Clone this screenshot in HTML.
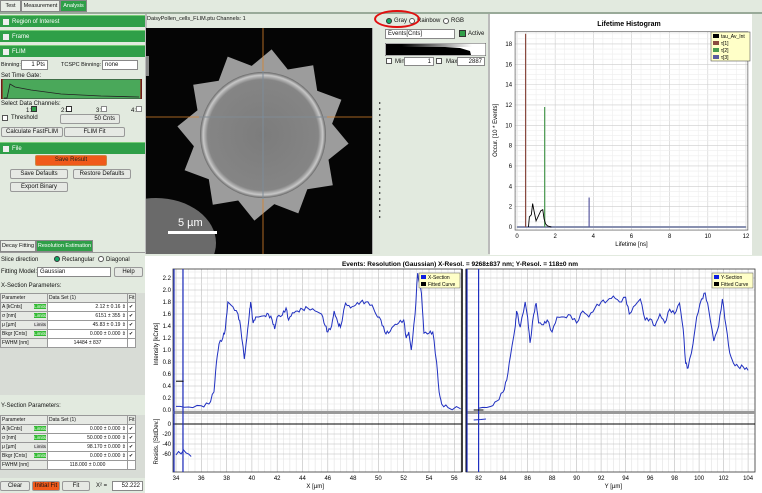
<!DOCTYPE html>
<html><head><meta charset="utf-8"><style>
*{box-sizing:border-box;margin:0;padding:0}
body{width:762px;height:493px;overflow:hidden;background:#e2eadf;font-family:"Liberation Sans",sans-serif;font-size:6px;color:#111;position:relative}
.a{position:absolute;white-space:nowrap}
.g{position:absolute;background:#2f9f48;color:#fff;height:12px;left:0;width:145px;padding-left:12px;line-height:12px;font-size:6px;border-top:1px solid #7c7}
.g:before{content:"";position:absolute;left:3px;top:3px;width:6px;height:6px;background:#eee}
.btn{position:absolute;background:#e6e9e4;border:1px solid #999;border-radius:2px;text-align:center;line-height:9px;font-size:6px;white-space:nowrap;overflow:hidden}
.in{position:absolute;background:#fff;border:1px solid #888;font-size:6px;line-height:8px;text-align:right;padding-right:2px;white-space:nowrap}
.tab{position:absolute;top:0;height:12px;border:1px solid #888;line-height:11px;text-align:center;font-size:5.5px;background:#e8ece6;white-space:nowrap;overflow:hidden}
table{border-collapse:collapse;font-size:5px;table-layout:fixed}
td{border:1px solid #999;height:9px;padding:0 1px;white-space:nowrap;overflow:hidden}
.L{background:#3b3;color:#fff;float:right;font-size:4.5px}
.Lg{background:#ddd;float:right;font-size:4.5px}
</style></head><body>
<div class="tab" style="left:0;width:21px">Test</div>
<div class="tab" style="left:21px;width:39px">Measurement</div>
<div class="tab" style="left:60px;width:27px;background:#2f9f48;color:#fff">Analysis</div>
<div class="a" style="left:0;top:12px;width:762px;height:2px;background:#9a9"></div>
<div class="g" style="top:15px">Region of Interest</div>
<div class="g" style="top:30px">Frame</div>
<div class="g" style="top:45px">FLIM</div>
<div class="a" style="left:1px;top:62px;font-size:5.5px">Binning:</div>
<div class="in" style="left:21px;top:60px;width:27px;height:10px">1 Pts</div>
<div class="a" style="left:61px;top:62px;font-size:5.5px">TCSPC Binning:</div>
<div class="in" style="left:102px;top:60px;width:36px;height:10px;text-align:left;padding-left:2px">none</div>
<div class="a" style="left:1px;top:73px">Set Time Gate:</div>
<svg class="a" style="left:1px;top:79px" width="141" height="20"><rect width="141" height="20" fill="#4aa85a" stroke="#333"/><path d="M3 19 L6 19 L9 5 L14 8 L30 11 L60 15 L100 17 L138 18" stroke="#222" fill="none" stroke-width="0.8"/><line x1="1" y1="0" x2="1" y2="20" stroke="#a00"/><line x1="140" y1="0" x2="140" y2="20" stroke="#a00"/></svg>
<div class="a" style="left:1px;top:101px">Select Data Channels:</div>
<div class="a" style="left:26px;top:106px">1:<span style="display:inline-block;width:6px;height:6px;background:#2f9f48;border:1px solid #333"></span></div>
<div class="a" style="left:61px;top:106px">2:<span style="display:inline-block;width:6px;height:6px;background:#fff;border:1px solid #333"></span></div>
<div class="a" style="left:96px;top:106px">3:<span style="display:inline-block;width:6px;height:6px;background:#fff;border:1px solid #888"></span></div>
<div class="a" style="left:131px;top:106px">4:<span style="display:inline-block;width:6px;height:6px;background:#fff;border:1px solid #888"></span></div>
<div class="a" style="left:2px;top:115px;width:6px;height:6px;background:#fff;border:1px solid #555"></div>
<div class="a" style="left:11px;top:115px">Threshold</div>
<div class="btn" style="left:60px;top:114px;width:60px;height:10px;text-align:right;padding-right:4px">50 Cnts</div>
<div class="btn" style="left:1px;top:127px;width:62px;height:10px">Calculate FastFLIM</div>
<div class="btn" style="left:64px;top:127px;width:61px;height:10px">FLIM Fit</div>
<div class="g" style="top:142px">File</div>
<div class="btn" style="left:35px;top:155px;width:72px;height:11px;background:#f05a1a;border-color:#c84;color:#222">Save Result</div>
<div class="btn" style="left:10px;top:169px;width:58px;height:10px">Save Defaults</div>
<div class="btn" style="left:73px;top:169px;width:58px;height:10px">Restore Defaults</div>
<div class="btn" style="left:10px;top:182px;width:58px;height:10px">Export Binary</div>
<div class="a" style="left:145px;top:14px;width:2px;height:240px;background:#bbb"></div>
<div class="tab" style="top:240px;left:0;width:36px">Decay Fitting</div>
<div class="tab" style="top:240px;left:36px;width:57px;background:#2f9f48;color:#fff">Resolution Estimation</div>
<div class="a" style="left:0;top:252px;width:145px;height:1px;background:#999"></div>
<div class="a" style="left:1px;top:257px">Slice direction</div>
<div class="a" style="left:54px;top:256px;width:6px;height:6px;border-radius:3px;background:#1a6;border:1px solid #333"></div>
<div class="a" style="left:62px;top:257px">Rectangular</div>
<div class="a" style="left:98px;top:256px;width:6px;height:6px;border-radius:3px;background:#fff;border:1px solid #555"></div>
<div class="a" style="left:106px;top:257px">Diagonal</div>
<div class="a" style="left:1px;top:269px">Fitting Model:</div>
<div class="in" style="left:37px;top:267px;width:74px;height:10px;text-align:left;padding-left:2px">Gaussian</div>
<div class="btn" style="left:114px;top:267px;width:29px;height:10px">Help</div>
<div class="a" style="left:1px;top:283px">X-Section Parameters:</div>
<div class="a" style="left:0;top:293px;width:145px;height:102px;background:#d8dcd6"></div>
<table class="a" style="left:0;top:293px;width:136px;background:#fff">
<col style="width:47px"><col><col style="width:8px">
<tr style="background:#e6e9e4"><td>Parameter</td><td>Data Set (1)</td><td>Fit</td></tr>
<tr><td style="background:#e6e9e4">A [kCnts] <span class="L">Limits</span></td><td style="text-align:right">2.12 ± 0.16 ⇕</td><td>✔</td></tr>
<tr><td style="background:#e6e9e4">σ [nm] <span class="L">Limits</span></td><td style="text-align:right">6151 ± 355 ⇕</td><td>✔</td></tr>
<tr><td style="background:#e6e9e4">μ [µm] <span class="Lg">Limits</span></td><td style="text-align:right">45.83 ± 0.19 ⇕</td><td>✔</td></tr>
<tr><td style="background:#e6e9e4">Bkgr [Cnts] <span class="L">Limits</span></td><td style="text-align:right">0.000 ± 0.000 ⇕</td><td>✔</td></tr>
<tr><td style="background:#e6e9e4">FWHM [nm]</td><td style="text-align:center">14484 ± 837</td><td></td></tr>
</table>
<div class="a" style="left:1px;top:403px">Y-Section Parameters:</div>
<div class="a" style="left:0;top:415px;width:145px;height:63px;background:#d8dcd6"></div>
<table class="a" style="left:0;top:415px;width:136px;background:#fff">
<col style="width:47px"><col><col style="width:8px">
<tr style="background:#e6e9e4"><td>Parameter</td><td>Data Set (1)</td><td>Fit</td></tr>
<tr><td style="background:#e6e9e4">A [kCnts] <span class="L">Limits</span></td><td style="text-align:right">0.000 ± 0.000 ⇕</td><td>✔</td></tr>
<tr><td style="background:#e6e9e4">σ [nm] <span class="L">Limits</span></td><td style="text-align:right">50.000 ± 0.000 ⇕</td><td>✔</td></tr>
<tr><td style="background:#e6e9e4">μ [µm] <span class="Lg">Limits</span></td><td style="text-align:right">98.170 ± 0.000 ⇕</td><td>✔</td></tr>
<tr><td style="background:#e6e9e4">Bkgr [Cnts] <span class="L">Limits</span></td><td style="text-align:right">0.000 ± 0.000 ⇕</td><td>✔</td></tr>
<tr><td style="background:#e6e9e4">FWHM [nm]</td><td style="text-align:center">118.000 ± 0.000</td><td></td></tr>
</table>
<div class="btn" style="left:0;top:481px;width:30px;height:10px">Clear</div>
<div class="btn" style="left:32px;top:481px;width:28px;height:10px;background:#f05a1a">Initial Fit</div>
<div class="btn" style="left:62px;top:481px;width:28px;height:10px">Fit</div>
<div class="a" style="left:96px;top:483px">X² =</div>
<div class="in" style="left:112px;top:481px;width:31px;height:10px">52.222</div>

<div class="a" style="left:147px;top:16px;font-size:5.5px">DaisyPollen_cells_FLIM.ptu Channels: 1</div>
<svg class="a" style="left:146px;top:28px" width="226" height="226">
<defs><radialGradient id="c" cx="0.5" cy="0.5" r="0.5"><stop offset="0" stop-color="#7c7c7c"/><stop offset="0.88" stop-color="#858585"/><stop offset="0.95" stop-color="#c8c8c8"/><stop offset="1" stop-color="#666"/></radialGradient></defs>
<rect width="226" height="226" fill="#050505"/>
<ellipse cx="10" cy="215" rx="60" ry="45" fill="#6a6a6a"/>
<rect x="0" y="28" width="3" height="20" fill="#888"/>
<polygon id="star" fill="#9c9c9c" points=""/>
<circle cx="117" cy="107" r="63" fill="url(#c)"/>
<line x1="117" y1="0" x2="117" y2="226" stroke="#d9822b" stroke-width="0.8"/>
<line x1="0" y1="89" x2="226" y2="89" stroke="#d9822b" stroke-width="0.8"/>
<line x1="117" y1="43" x2="117" y2="171" stroke="#6b8fb0" stroke-width="0.8"/>
<line x1="53" y1="89" x2="181" y2="89" stroke="#6b8fb0" stroke-width="0.8"/>
<text x="32" y="198" fill="#fff" font-size="11" font-family="Liberation Sans">5 µm</text>
<rect x="22" y="203" width="49" height="3" fill="#fff"/>
</svg>
<div class="a" style="left:372px;top:28px;width:8px;height:226px;background:#dfe6dc;border-left:1px solid #aaa"></div>
<div class="a" style="left:379px;top:100px;font-size:4px;line-height:6px">▸<br>▸<br>▸<br>▸<br>▸<br>▸<br>▸<br>▸<br>▸<br>▸<br>▸<br>▸<br>▸<br>▸<br>▸<br>▸<br>▸<br>▸<br>▸<br>▸</div>

<div class="a" style="left:386px;top:18px;width:6px;height:6px;border-radius:3px;background:#1a6;border:1px solid #333"></div>
<div class="a" style="left:394px;top:18px">Gray</div>
<div class="a" style="left:409px;top:18px;width:6px;height:6px;border-radius:3px;background:#fff;border:1px solid #555"></div>
<div class="a" style="left:417px;top:18px">Rainbow</div>
<div class="a" style="left:443px;top:18px;width:6px;height:6px;border-radius:3px;background:#fff;border:1px solid #555"></div>
<div class="a" style="left:451px;top:18px">RGB</div>
<div class="a" style="left:374px;top:10px;width:46px;height:18px;border:2px solid #e01010;border-radius:50%"></div>
<div class="in" style="left:385px;top:29px;width:70px;height:10px;text-align:left;padding-left:2px">Events[Cnts]</div>
<div class="a" style="left:459px;top:30px;width:7px;height:7px;background:#2f9f48;border:1px solid #333"></div>
<div class="a" style="left:468px;top:31px">Active</div>
<svg class="a" style="left:385px;top:43px" width="101" height="13"><defs><linearGradient id="gg"><stop offset="0" stop-color="#000"/><stop offset="1" stop-color="#fff"/></linearGradient></defs><rect width="101" height="13" fill="#fff" stroke="#555"/><rect x="1" y="1" width="16" height="11" fill="#000"/><path d="M17 12 L17 3 L45 3 L60 4 L75 5 L85 8 L86 12 Z" fill="#000"/><rect x="17" y="1" width="70" height="3" fill="url(#gg)"/></svg>
<div class="a" style="left:386px;top:58px;width:6px;height:6px;background:#fff;border:1px solid #555"></div>
<div class="a" style="left:395px;top:59px">Min</div>
<div class="in" style="left:404px;top:57px;width:30px;height:9px">1</div>
<div class="a" style="left:436px;top:58px;width:6px;height:6px;background:#fff;border:1px solid #555"></div>
<div class="a" style="left:446px;top:59px">Max</div>
<div class="in" style="left:457px;top:57px;width:28px;height:9px">2887</div>
<div class="a" style="left:488px;top:14px;width:2px;height:240px;background:#bbb"></div>

<svg class="a" style="left:490px;top:14px" width="272" height="241" id="hist"></svg>
<svg class="a" style="left:145px;top:256px" width="617" height="237" id="res"></svg>
<script>
function E(p,t,a,txt){const e=document.createElementNS("http://www.w3.org/2000/svg",t);for(const k in a)e.setAttribute(k,a[k]);if(txt!==undefined)e.textContent=txt;p.appendChild(e);return e;}
(function(){let pts=[];const cx=117,cy=107,n=12;for(let i=0;i<n*2;i++){const a=i*Math.PI/n+0.1;const r=i%2?70:86;pts.push((cx+r*Math.cos(a)).toFixed(1)+","+(cy+r*Math.sin(a)).toFixed(1));}document.getElementById("star").setAttribute("points",pts.join(" "));})();
(function(){const s=document.getElementById("hist");const ox=-490,oy=-14;
E(s,"rect",{x:0,y:0,width:262,height:241,fill:"#fff"});
E(s,"rect",{x:262,y:0,width:10,height:241,fill:"#dfe6dc"});
E(s,"text",{x:629+ox,y:26+oy,"font-size":"7","font-weight":"bold","text-anchor":"middle","font-family":"Liberation Sans"},"Lifetime Histogram");
const X=v=>517+v*19.08+ox, Y=v=>227-v*10.17+oy;
for(let v=0;v<=12.01;v+=0.5)E(s,"line",{x1:X(v),x2:X(v),y1:Y(19.2),y2:Y(-0.3),stroke:v%2?"#eee":"#ccc","stroke-width":0.6});
for(let v=0;v<=19;v+=0.5)E(s,"line",{x1:X(-0.1),x2:X(12.1),y1:Y(v),y2:Y(v),stroke:v%2?"#eee":"#ccc","stroke-width":0.6});
E(s,"rect",{x:X(-0.1),y:Y(19.2),width:X(12.1)-X(-0.1),height:Y(-0.3)-Y(19.2),fill:"none",stroke:"#555","stroke-width":0.7});
for(let v=0;v<=12;v+=2)E(s,"text",{x:X(v),y:Y(-0.3)+8,"font-size":"6","text-anchor":"middle","font-family":"Liberation Sans"},v);
for(let v=0;v<=18;v+=2)E(s,"text",{x:X(-0.1)-3,y:Y(v)+2,"font-size":"6","text-anchor":"end","font-family":"Liberation Sans"},v);
E(s,"text",{x:X(6),y:Y(-0.3)+16,"font-size":"6","text-anchor":"middle","font-family":"Liberation Sans"},"Lifetime [ns]");
E(s,"text",{x:0,y:0,"font-size":"6","text-anchor":"middle","font-family":"Liberation Sans",transform:`translate(${X(-0.1)-18},${Y(9.5)}) rotate(-90)`},"Occur. [10 * Events]");
E(s,"line",{x1:X(0),x2:X(12),y1:Y(0),y2:Y(0),stroke:"#8890b0","stroke-width":2});
E(s,"line",{x1:X(0.45),x2:X(0.45),y1:Y(0),y2:Y(19),stroke:"#8a4a40","stroke-width":1.2});
E(s,"line",{x1:X(1.45),x2:X(1.45),y1:Y(0),y2:Y(11.8),stroke:"#4a9a50","stroke-width":1.2});
E(s,"line",{x1:X(3.78),x2:X(3.78),y1:Y(0),y2:Y(2.9),stroke:"#5a5aa0","stroke-width":1.2});
const bc=[[0.6,0],[0.65,1],[0.75,1.2],[0.82,2.3],[0.9,1.5],[1,0.6],[1.1,1],[1.25,1.6],[1.35,1.7],[1.42,0.8],[1.5,0.3],[1.6,0.1],[1.8,0]];
E(s,"polyline",{points:bc.map(p=>X(p[0])+","+Y(p[1])).join(" "),fill:"none",stroke:"#000","stroke-width":0.9});
E(s,"rect",{x:711+ox,y:32+oy,width:39,height:29,fill:"#ffffc8",stroke:"#555","stroke-width":0.6});
[["#000","tau_Av_Int"],["#8a4a40","τ[1]"],["#4a9a50","τ[2]"],["#5a5aa0","τ[3]"]].forEach((l,i)=>{E(s,"rect",{x:713+ox,y:34+i*7+oy,width:6,height:4,fill:l[0]});E(s,"text",{x:721+ox,y:38+i*7+oy,"font-size":"5","font-family":"Liberation Sans"},l[1]);});
})();
(function(){const s=document.getElementById("res");const ox=-145,oy=-256;const f="Liberation Sans";
E(s,"rect",{x:0,y:0,width:617,height:237,fill:"#fff"});
E(s,"text",{x:460+ox,y:266+oy,"font-size":"6.5","font-weight":"bold","text-anchor":"middle","font-family":f},"Events: Resolution (Gaussian)    X-Resol. = 9268±837 nm;   Y-Resol. = 118±0 nm");
const top=269,mid=410,rZ=424,bot=472;
const IY=v=>mid-v*60+oy, RY=v=>rZ-(v/20)*10+oy;
function panel(x0,x1,v0,v1,XF,t0){
 for(let v=t0;v<=v1+0.01;v+=0.5){const x=XF(v);E(s,"line",{x1:x,x2:x,y1:top+oy,y2:bot+oy,stroke:(v%2==0)?"#bbb":"#e2e2e2","stroke-width":0.6});}
 for(let v=-0.1;v<=2.4;v+=0.1){const y=IY(v);if(y<top+oy)continue;E(s,"line",{x1:x0+ox,x2:x1+ox,y1:y,y2:y,stroke:(Math.round(v*10)%2==0)?"#bbb":"#e6e6e6","stroke-width":0.6});}
 for(let v=-70;v<=10;v+=10){E(s,"line",{x1:x0+ox,x2:x1+ox,y1:RY(v),y2:RY(v),stroke:v%20==0?"#bbb":"#e6e6e6","stroke-width":0.6});}
 E(s,"rect",{x:x0+ox,y:top+oy,width:x1-x0,height:bot-top,fill:"none",stroke:"#333","stroke-width":0.8});
 E(s,"rect",{x:x0+ox,y:411+oy,width:x1-x0,height:3,fill:"#999"});
 E(s,"line",{x1:x0+ox,x2:x1+ox,y1:RY(0),y2:RY(0),stroke:"#000","stroke-width":1});
 for(let v=t0;v<=v1+0.01;v+=2)E(s,"text",{x:XF(v),y:480+oy,"font-size":"6","text-anchor":"middle","font-family":f},v);
}
const XL=v=>176+(v-34)*12.65+ox, XR=v=>478.6+(v-82)*12.25+ox;
panel(173,462,34,56.6,XL,34);panel(466,755,81.6,104.2,XR,82);
for(let v=0;v<=2.21;v+=0.2)E(s,"text",{x:171+ox,y:IY(v)+2,"font-size":"6","text-anchor":"end","font-family":f},v.toFixed(1));
[0,-20,-40,-60].forEach(v=>E(s,"text",{x:171+ox,y:RY(v)+2,"font-size":"6","text-anchor":"end","font-family":f},v));
E(s,"text",{x:0,y:0,"font-size":"6","text-anchor":"middle","font-family":f,transform:`translate(${158+ox},${IY(1.1)}) rotate(-90)`},"Intensity [kCnts]");
E(s,"text",{x:0,y:0,"font-size":"6","text-anchor":"middle","font-family":f,transform:`translate(${158+ox},${RY(-35)}) rotate(-90)`},"Resids. [StdDev.]");
E(s,"text",{x:XL(45),y:488+oy,"font-size":"6","text-anchor":"middle","font-family":f},"X [µm]");
E(s,"text",{x:XR(93),y:488+oy,"font-size":"6","text-anchor":"middle","font-family":f},"Y [µm]");
E(s,"line",{x1:462+ox,x2:462+ox,y1:top+oy,y2:bot+oy,stroke:"#000","stroke-width":1.5});
E(s,"line",{x1:466+ox,x2:466+ox,y1:top+oy,y2:bot+oy,stroke:"#000","stroke-width":1});
[174,183,467,478.6].forEach(x=>E(s,"line",{x1:x+ox,x2:x+ox,y1:top+oy,y2:bot+oy,stroke:"#2030c0","stroke-width":1.2}));
const L=[[34,0.06],[35,0.05],[36,0.07],[36.6,0.1],[37,0.3],[37.2,0.8],[37.4,1.1],[37.7,1.2],[37.9,1.35],[38.1,1.8],[38.5,1.72],[38.9,1.6],[39.1,1.4],[39.4,0.85],[39.6,1.2],[39.8,1.6],[39.9,1.8],[40.1,1.45],[40.3,1.55],[41,1.57],[41.3,1.6],[41.6,1.5],[41.8,1.35],[42,1.55],[42.4,1.58],[42.7,1.7],[42.9,1.5],[43.2,1.62],[43.6,1.65],[44,1.68],[44.4,1.7],[45,1.65],[45.5,1.6],[45.8,1.4],[46,1.3],[46.3,1.4],[46.5,1.65],[46.8,1.45],[47,1.38],[47.4,1.78],[47.8,1.7],[48.2,1.75],[48.6,1.8],[49,1.8],[49.5,1.75],[49.8,1.6],[50.2,1.5],[50.5,1.3],[50.8,1.28],[51.2,1.4],[51.6,1.45],[52,1.5],[52.2,1.2],[52.4,1.3],[52.6,1.0],[52.9,1.6],[53.1,2.28],[53.4,1.95],[53.6,1.28],[54,1.28],[54.3,1.3],[54.6,0.8],[54.8,0.3],[55,0.1],[55.5,0.04],[56.5,0.02]];
const R=[[82,0.03],[83,0.06],[83.5,0.15],[84,0.3],[84.3,0.5],[84.6,0.9],[85,1.4],[85.1,1.65],[85.4,1.38],[85.8,1.8],[86,1.55],[86.2,1.12],[86.5,1.6],[86.7,1.78],[86.9,1.45],[87.3,1.42],[87.6,1.5],[88,1.3],[88.4,1.55],[89,1.55],[89.5,1.58],[90,1.45],[90.5,1.65],[91,1.55],[91.5,1.7],[92,1.8],[92.5,1.82],[93,1.9],[93.5,1.8],[94,1.88],[94.3,1.6],[94.8,1.75],[95.2,1.85],[95.6,1.5],[96,1.52],[96.4,1.4],[96.8,1.6],[97.2,1.45],[97.6,1.68],[98,1.6],[98.4,1.78],[98.7,1.35],[98.9,0.78],[99.1,0.7],[99.5,1.1],[99.8,1.55],[100.2,1.85],[100.5,1.95],[100.8,1.65],[101.2,1.15],[101.6,1.4],[101.9,1.85],[102.2,1.4],[102.5,0.95],[102.8,0.78],[103.2,0.72],[103.6,0.72],[104,0.66]];
function jit(a){let o=[];for(let i=0;i<a.length-1;i++){const[p,q]=[a[i],a[i+1]];for(let k=0;k<3;k++){const t=k/3;o.push([p[0]+(q[0]-p[0])*t,p[1]+(q[1]-p[1])*t+(k?(Math.sin(i*7+k*3)*0.03):0)]);}}o.push(a[a.length-1]);return o;}
E(s,"polyline",{points:jit(L).map(p=>XL(p[0])+","+IY(p[1])).join(" "),fill:"none",stroke:"#2030c0","stroke-width":1});
E(s,"polyline",{points:jit(R).map(p=>XR(p[0])+","+IY(p[1])).join(" "),fill:"none",stroke:"#2030c0","stroke-width":1});
E(s,"polyline",{points:[[34,-62],[34.2,-55],[34.4,-60],[34.6,-52],[34.8,-58],[35,-60],[35.2,-65]].map(p=>XL(p[0])+","+RY(p[1])).join(" "),fill:"none",stroke:"#2030c0","stroke-width":1});
E(s,"polyline",{points:[[81.6,8],[82.2,9],[82.6,10]].map(p=>XR(p[0])+","+RY(p[1])).join(" "),fill:"none",stroke:"#2030c0","stroke-width":1});
E(s,"line",{x1:XL(34),x2:XL(34.6),y1:IY(0.48),y2:IY(0.48),stroke:"#000","stroke-width":1});
E(s,"line",{x1:XR(81.6),x2:XR(82.4),y1:IY(0.0),y2:IY(0.0),stroke:"#000","stroke-width":1});
[[419,"X-Section"],[712,"Y-Section"]].forEach(l=>{E(s,"rect",{x:l[0]+ox,y:273+oy,width:41,height:15,fill:"#ffffc8",stroke:"#555","stroke-width":0.5});
E(s,"rect",{x:l[0]+2+ox,y:275+oy,width:5,height:4,fill:"#1020e0"});E(s,"text",{x:l[0]+9+ox,y:279+oy,"font-size":"5","font-family":f},l[1]);
E(s,"rect",{x:l[0]+2+ox,y:282+oy,width:5,height:4,fill:"#000"});E(s,"text",{x:l[0]+9+ox,y:286+oy,"font-size":"5","font-family":f},"Fitted Curve");});
})();
</script>
</body></html>
